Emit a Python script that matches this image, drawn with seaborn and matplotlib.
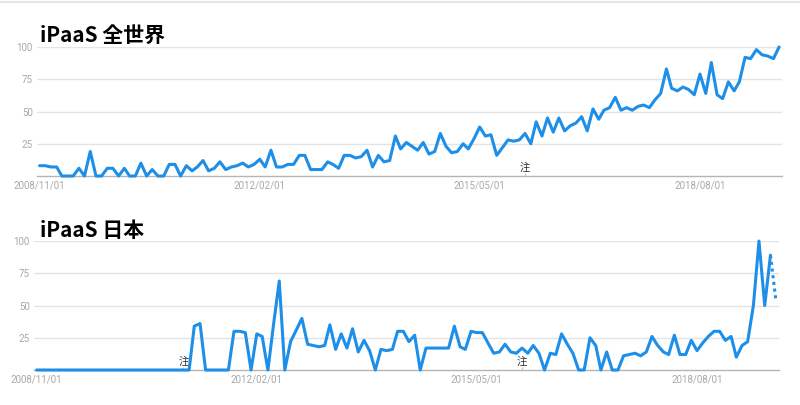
"""Google-Trends-artige Zeitreihen fuer iPaaS (weltweit / Japan)."""

import matplotlib

matplotlib.use("Agg")

import matplotlib.dates as mdates
import matplotlib.pyplot as plt
import pandas as pd
import seaborn as sns
from matplotlib.lines import Line2D

# Monatswerte ab 2008/11
START = "2008-11-01"

WORLD = [
    8, 8, 7, 7, 0, 0, 0, 6, 0, 19, 0, 0, 6, 6, 0, 6, 0, 0, 10, 0,
    5, 0, 0, 9, 9, 0, 8, 4, 7, 12, 4, 6, 11, 5, 7, 8, 10, 7, 9, 13,
    7, 20, 7, 7, 9, 9, 16, 16, 5, 5, 5, 11, 9, 6, 16, 16, 14, 15, 20, 7,
    16, 11, 12, 31, 21, 26, 23, 20, 26, 17, 19, 33, 23, 18, 19, 25, 21, 29, 38, 31,
    32, 16, 22, 28, 27, 28, 33, 25, 42, 31, 45, 34, 45, 35, 39, 41, 46, 35, 52, 44,
    51, 53, 61, 51, 53, 51, 54, 55, 53, 59, 64, 83, 68, 66, 69, 67, 63, 79, 64, 88,
    63, 60, 73, 66, 73, 92, 91, 98, 94, 93, 91, 100,
]

JAPAN = [
    0, 0, 0, 0, 0, 0, 0, 0, 0, 0, 0, 0, 0, 0, 0, 0, 0, 0, 0, 0,
    0, 0, 0, 0, 0, 0, 0, 0, 34, 36, 0, 0, 0, 0, 0, 30, 30, 29, 0, 28,
    26, 0, 35, 69, 0, 22, 31, 40, 20, 19, 18, 19, 35, 16, 28, 17, 32, 14, 23, 15,
    0, 16, 15, 16, 30, 30, 22, 27, 0, 17, 17, 17, 17, 17, 34, 18, 16, 30, 29, 29,
    21, 13, 14, 20, 14, 13, 17, 13, 19, 13, 0, 13, 12, 28, 20, 13, 0, 0, 25, 19,
    0, 14, 0, 0, 11, 12, 13, 11, 14, 26, 19, 14, 12, 27, 12, 12, 23, 15, 21, 26,
    30, 30, 23, 26, 10, 19, 22, 50, 100, 50, 89, 53,
]

XTICKS = ["2008-11-01", "2012-02-01", "2015-05-01", "2018-08-01"]
YTICKS = [25, 50, 75, 100]
NOTES_WORLD = ["2016-01-01"]
NOTES_JAPAN = ["2011-01-01", "2016-01-01"]

BLUE = "#1e8fe9"
CJK = ["Noto Sans CJK JP", "DejaVu Sans"]

sns.set_style("white")
plt.rcParams["font.family"] = ["Roboto", "DejaVu Sans"]


def draw_panel(ax, values, notes, partial_last=False):
    df = pd.DataFrame({"date": pd.date_range(START, periods=len(values), freq="MS"), "value": values})
    solid = df.iloc[:-1] if partial_last else df
    sns.lineplot(data=solid, x="date", y="value", color=BLUE, linewidth=2.2, ax=ax, clip_on=False, zorder=5)
    if partial_last:
        sns.lineplot(
            data=df.iloc[-2:], x="date", y="value", color=BLUE, linewidth=2.2,
            linestyle=(0, (1, 1.2)), ax=ax, clip_on=False, zorder=5,
        )

    ax.set_ylim(0, 100)
    ax.set_xlim(df["date"].iloc[0] - pd.Timedelta(days=14), df["date"].iloc[-1] + pd.Timedelta(days=16))
    ax.set_yticks(YTICKS)
    ax.set_xticks(pd.to_datetime(XTICKS))
    ax.xaxis.set_major_formatter(mdates.DateFormatter("%Y/%m/%d"))
    ax.tick_params(axis="both", length=0, labelsize=7, labelcolor="#a8a8a8")
    ax.tick_params(axis="y", pad=3)
    ax.tick_params(axis="x", pad=3)
    ax.set_xlabel("")
    ax.set_ylabel("")
    ax.grid(True, axis="y", color="#e4e4e4", linewidth=1)
    ax.grid(False, axis="x")
    for side in ("top", "left", "right"):
        ax.spines[side].set_visible(False)
    ax.spines["bottom"].set_color("#b5b5b5")
    ax.spines["bottom"].set_linewidth(1)

    for note in pd.to_datetime(notes):
        ax.vlines(note, 0, 2.5, color="#c8c8c8", linewidth=1, zorder=3)
        ax.text(note, 2.8, "注", ha="center", va="bottom", fontsize=7.5, color="#333333", family=CJK, zorder=4)


fig = plt.figure(figsize=(8, 4.05), dpi=100)
ax_world = fig.add_axes([0.04625, 0.5654, 0.93125, 0.3185])
ax_japan = fig.add_axes([0.0425, 0.0864, 0.93125, 0.3185])

draw_panel(ax_world, WORLD, NOTES_WORLD)
draw_panel(ax_japan, JAPAN, NOTES_JAPAN, partial_last=True)

fig.text(0.05, 0.898, "iPaaS 全世界", fontsize=15, fontweight="bold", color="black", family=CJK, va="baseline")
fig.text(0.05, 0.415, "iPaaS 日本", fontsize=15, fontweight="bold", color="black", family=CJK, va="baseline")
fig.add_artist(Line2D([0, 1], [0.995, 0.995], color="#e6e6e6", linewidth=1.5))

fig.savefig("out.png", dpi=100)
plt.close(fig)
